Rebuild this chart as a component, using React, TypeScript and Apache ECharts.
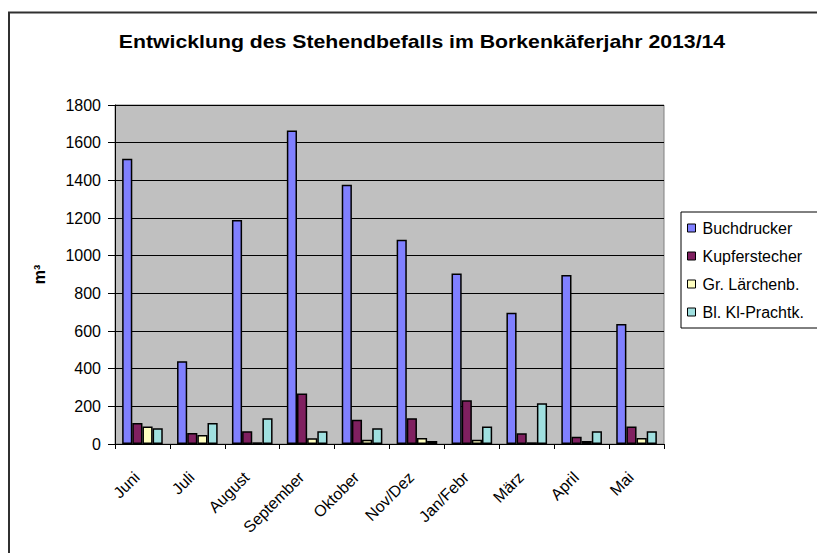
import React, { useEffect, useRef } from "react";
import * as echarts from "echarts";

const categories = ["Juni", "Juli", "August", "September", "Oktober", "Nov/Dez", "Jan/Febr", "März", "April", "Mai"];
const seriesNames = ["Buchdrucker", "Kupferstecher", "Gr. Lärchenb.", "Bl. Kl-Prachtk."];
const buchdrucker = [1515, 440, 1190, 1664, 1377, 1085, 905, 697, 897, 637];
const kupferstecher = [112, 59, 68, 268, 129, 137, 232, 57, 39, 93];
const lärchenbock = [93, 48, 9, 30, 23, 32, 23, 9, 16, 32];
const prachtkaefer = [84, 111, 137, 68, 84, 16, 93, 216, 68, 68];
const colors = ["#8080FF", "#802060", "#FFFFC0", "#A0E0E0"];
const titleText = "Entwicklung des Stehendbefalls im Borkenkäferjahr 2013/14";

export default function App() {
  const ref = useRef<HTMLDivElement>(null);
  useEffect(() => {
    if (!ref.current) return;
    const chart = echarts.init(ref.current, null, { renderer: "svg" });
    const font = "Liberation Sans, Arial, sans-serif";
    const data = [buchdrucker, kupferstecher, lärchenbock, prachtkaefer];
    chart.setOption({
      animation: false,
      backgroundColor: "#ffffff",
      textStyle: { fontFamily: font },
      graphic: [
        {
          type: "rect",
          shape: { x: 9, y: 12.5, width: 900, height: 700 },
          style: { fill: "none", stroke: "#303030", lineWidth: 2 },
          silent: true,
        },
        {
          type: "text",
          x: 422,
          y: 42,
          scaleX: 1.18,
          style: {
            text: titleText,
            fontFamily: font,
            fontSize: 18,
            fontWeight: "bold",
            fill: "#000",
            align: "center",
            verticalAlign: "middle",
          },
        },
      ],
      legend: {
        orient: "vertical",
        left: 681,
        top: 212,
        padding: [8, 40, 8, 6],
        itemWidth: 8,
        itemHeight: 8,
        itemGap: 12,
        icon: "rect",
        borderColor: "#000",
        borderWidth: 1,
        backgroundColor: "#fff",
        textStyle: { fontFamily: font, fontSize: 16, color: "#000", padding: [0, 0, 0, 2] },
        itemStyle: { borderColor: "#000", borderWidth: 1 },
        data: seriesNames,
      },
      grid: {
        left: 115,
        top: 105,
        width: 549,
        height: 339,
        show: true,
        backgroundColor: "#C0C0C0",
        borderColor: "#808080",
        borderWidth: 1,
      },
      xAxis: {
        type: "category",
        data: categories,
        axisLine: { lineStyle: { color: "#000", width: 1 } },
        axisTick: { show: true, length: 5, lineStyle: { color: "#000" } },
        axisLabel: {
          rotate: 45,
          margin: 25,
          interval: 0,
          padding: [0, 8, 0, 0],
          fontFamily: font,
          fontSize: 16,
          color: "#000",
        },
      },
      yAxis: {
        type: "value",
        min: 0,
        max: 1800,
        interval: 200,
        name: "m³",
        nameLocation: "middle",
        nameGap: 68,
        nameRotate: 90,
        nameTextStyle: { fontFamily: font, fontSize: 16, fontWeight: "bold", color: "#000" },
        axisLine: { show: true, lineStyle: { color: "#000", width: 1 } },
        axisTick: { show: true, length: 7, lineStyle: { color: "#000" } },
        axisLabel: {
          margin: 14,
          fontFamily: font,
          fontSize: 16,
          color: "#000",
          formatter: (v: number) => String(v),
        },
        splitLine: { show: true, lineStyle: { color: "#000", width: 1 } },
      },
      series: seriesNames.map((name, i) => ({
        name,
        type: "bar",
        data: data[i],
        barGap: "0%",
        barCategoryGap: "26%",
        itemStyle: { color: colors[i], borderColor: "#000", borderWidth: 1.5 },
      })),
    });
    return () => chart.dispose();
  }, []);
  return <div ref={ref} style={{ position: "fixed", left: 0, top: 0, width: 817, height: 553 }} />;
}
